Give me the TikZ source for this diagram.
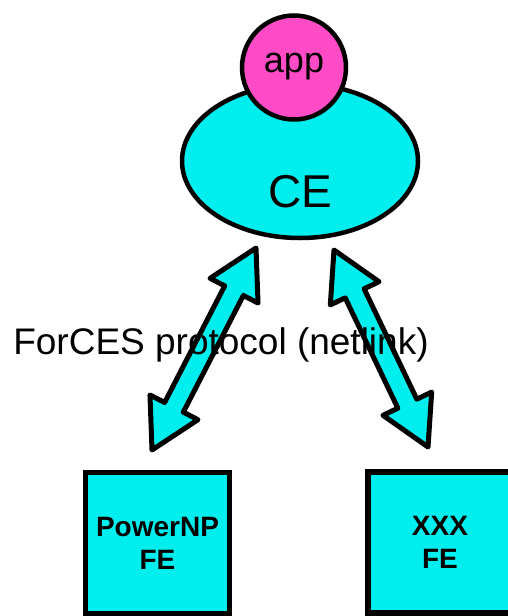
\documentclass[tikz,border=0pt]{standalone}
\usepackage{fontspec}
\setmainfont{Liberation Sans}
\usetikzlibrary{shapes.geometric,calc}

\definecolor{feCyan}{RGB}{0,238,238}
\definecolor{appPink}{RGB}{255,76,198}

% double-headed block arrow between two named tips
\newcommand{\blockarrow}[2]{%
  \coordinate (#1h) at ($(#1)!48pt!(#2)$);
  \coordinate (#2h) at ($(#2)!48pt!(#1)$);
  \draw[arrowbody] (#1)
    -- ($(#1h)!27pt!90:(#2)$) -- ($(#1h)!10.5pt!90:(#2)$)
    -- ($(#2h)!10.5pt!-90:(#1)$) -- ($(#2h)!27pt!-90:(#1)$)
    -- (#2)
    -- ($(#2h)!27pt!90:(#1)$) -- ($(#2h)!10.5pt!90:(#1)$)
    -- ($(#1h)!10.5pt!-90:(#2)$) -- ($(#1h)!27pt!-90:(#2)$)
    -- cycle;}

\begin{document}
\begin{tikzpicture}[x=1pt,y=-1pt,
  arrowbody/.style={draw=black,fill=feCyan,line width=5pt,line join=round},
  febox/.style={draw=black,fill=feCyan,line width=5.5pt,rectangle,
    minimum width=144pt,minimum height=141pt,inner sep=0pt,align=center,
    font=\fontsize{28}{33}\selectfont\bfseries},
  plain/.style={inner sep=0pt,anchor=base}]
\useasboundingbox (0,0) rectangle (508,616);

% control element with its application
\node[ellipse,draw=black,fill=feCyan,line width=4.5pt,minimum width=236pt,
  minimum height=154pt,inner sep=0pt] (ce) at (300,161) {};
\node[plain,font=\fontsize{46}{50}\selectfont] (cetext) at (300,207) {CE};
\node[circle,draw=black,fill=appPink,line width=4.5pt,minimum size=104pt,
  inner sep=0pt] (app) at (294,67.5) {};
\node[plain,font=\fontsize{36}{40}\selectfont] (apptext) at (294,72) {app};

% forwarding elements
\begin{scope}
\clip (0,0) rectangle (508,616);
\node[febox] (fe1) at (157.5,543) {PowerNP\\FE};
\node[febox] (fe2) at (440,542.25) {XXX\\FE};
\end{scope}

% protocol arrows
\coordinate (la) at (256,248);
\coordinate (lb) at (152,450);
\coordinate (ra) at (334,250);
\coordinate (rb) at (428,447);
\blockarrow{la}{lb}
\blockarrow{ra}{rb}

\node[plain,font=\fontsize{37}{42}\selectfont] (proto) at (221,354)
  {ForCES protocol (netlink)};
\end{tikzpicture}
\end{document}
